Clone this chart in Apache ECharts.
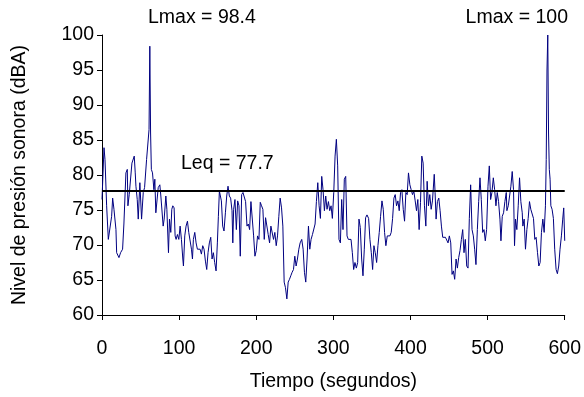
<!DOCTYPE html>
<html>
<head>
<meta charset="utf-8">
<script src="https://cdn.jsdelivr.net/npm/echarts@6/dist/echarts.min.js"></script>
<style>
html,body{margin:0;padding:0;background:#fff;}
#c{width:584px;height:397px;}
</style>
</head>
<body>
<div id="c"></div>
<script>
const times = [
0,2.6,3.9,6,8.2,10.3,12.5,13.8,15.5,17.2,18.1,19,22,24.1,26.7,28.4,31,32.8,33.6,35.3,37.1,38.8,41.8,43.1,44,45.7,47,49.1,51.3,53.5,55.2,57.8,61,62,63,64,65.5,67.3,68.5,69.8,72.9,75,76.3,79.3,80.6,82.8,
84.1,86.2,87.5,89.2,90.5,91.8,93.5,94.8,96.1,97.8,99.6,101.3,103,104.8,105.6,107.3,109,110.8,112.5,114.2,116,117.3,118.5,120.3,122,123.7,125.4,127.2,128.9,130.6,132.3,134.1,135.8,137.5,139.2,141,142.7,144.4,146.1,147.9,149.6,150.9,152.2,153.5,154.8,156.5,158.2,160,161.7,163.4,165.1,166.8,168.6,169.6,
170.7,172.4,174.2,175.9,177.6,179.3,181.1,182.8,184.5,186.2,188,189.7,191.4,193.1,194.8,196.6,198.3,200,201.7,203.5,205.2,206.9,208.6,210.4,212.1,213.8,215.5,217.3,219,220.7,222.4,224.1,225.9,227.6,229.3,231,232.8,234.5,236.2,237.9,239.7,241.4,243.1,244.8,246.5,248.3,250,251.7,253.4,255.2,256.9,
259,260.8,262.5,264.2,265.9,267.7,269.4,271.1,272.9,274.6,276.3,278,279.8,281.5,283.2,284.9,286.6,288.4,290.1,291.8,293.6,295.3,297,298.7,300.5,302.2,303.9,305.6,307.3,309.1,310.8,312.5,314.2,316,317.7,319.4,321.1,322.9,324.6,326.3,328,329.8,331.5,333.2,334.9,336.7,338.4,340.1,341.8,343.6,
345.7,347.4,349.2,350.9,352.6,354.3,356.1,357.8,359.5,361.2,363,364.7,366.4,368.1,369.9,371.6,373.3,375,376.8,378.5,380.2,381.9,383.7,385.4,387.1,388.8,390.6,392.3,394,395.7,397.4,399.2,400.9,402.6,404.3,406.1,407.8,409.5,411.2,413,414.7,416.4,418.1,419.9,421.6,423.3,425,426.8,428.5,
430.8,431.9,433.2,434.9,436.7,438.4,440.1,441.8,443.6,445.3,447,448.7,450.4,452.2,453.9,455.6,457.3,459.1,460.8,462.5,464.2,466,467.7,469.4,471.1,472.9,474.6,476.3,478,479.8,481.5,483.2,484.9,486.7,488.4,490.1,491.8,493.6,495.3,497,498.7,500.5,502.2,503.9,505.6,507.4,509.1,510.8,512.5,514.2,516,
517.3,519,520.7,522.4,524.2,525,526.8,528.5,530.2,531.9,533.6,534.9,536.2,537.9,539.7,541.4,543.1,544.9,545.7,547.4,549.1,550.9,552.6,554.3,556,557.8,559.5,561.2,562.9,564.7,566.4,568.1,569.8,571.6,573.3,575,576,577,578,579,580,581,582,583.6,585.3,587,588.8,590.5,592.2,593.9,595.7,597.4,598.7,600
];
const levels = [
76.5,83.9,82.2,75.6,70.8,70.6,74.1,76.7,75.1,75.3,72.2,68.9,68.2,68.9,69.4,73,80.3,80.8,75.6,77.2,77,81.7,82.7,80.3,78.4,76.5,73.7,78.9,73.7,77.5,78.2,82.2,86.5,98.4,86,80.8,80.3,77.9,79.4,74.6,78.2,78.6,77,72.7,73.7,77,
75.1,68.9,73.7,71.8,75.1,75.6,75.3,71.3,70.8,71.5,70.8,72.7,70.8,68,67,71.3,72.7,73.4,71.8,72,69.4,68,70.8,71.8,70.3,69.4,69.6,69.4,68.7,69.9,69.4,67.7,66.5,68.9,70.3,71.1,68,68.9,67.5,66.3,70.3,74.1,77.7,77,76.3,72.7,72,74.6,77,78.4,77,76.7,74.9,70.3,
75.1,76.5,72.2,76.3,75.6,68.4,77.2,77.5,77.7,76.2,72.7,73,72.2,76.2,76.3,71.3,68.4,69.2,71.3,70.8,76.1,75.6,75.1,70.8,73.9,73.7,71.5,70.3,72.7,72.5,70.8,71.8,69.9,71.3,74.1,76.7,75.3,72.7,64.7,63.9,62.3,64.7,65.1,65.6,66.1,66.5,68.4,67,68,69.4,70.3,
70.8,69.4,66.1,64.7,68,72.7,69.4,70.8,71.5,71.3,73,76.2,78.9,75.6,73.8,79.8,77.9,74.9,77,75.1,76.2,74.9,75.6,73.8,77.5,82.7,85.1,81.3,70.8,70.3,76.5,72.2,79.4,79.8,71.3,70.8,70.6,70.8,68.9,66.5,67.5,66.7,67.5,73.7,72.5,68,65.6,69.4,73.9,74.3,
73.8,70.8,68.9,66.5,69.9,68.9,67.5,69.9,71.8,74.1,76.3,75.1,71.8,69.9,71.3,71.3,71.3,71.8,73.8,76.7,77.2,75.6,76.3,74.9,77.5,77.9,75.1,73.4,77.5,77.2,80.3,78.6,77.9,77.2,77.7,76.3,74.9,76.5,72.2,76.1,82.7,81.7,75.6,72.7,79.1,75.6,77.2,75.1,76.3,
80.1,77.5,73.7,76.2,76.7,74.9,72.7,71.1,71.3,71.1,71.3,70.3,71.3,70.3,65.8,66.3,65.1,68,66.7,68.2,69.2,70.8,72.2,68.9,70.8,67,66.7,73.8,78.6,72.2,71.3,69.4,67.2,72.2,76.2,79.6,76.5,71.8,72.2,70.6,72.2,78.4,81.3,76.5,77.5,79.6,77.9,75.6,77.5,76.2,73.7,
70.6,74.1,74.6,76.2,77.5,74.9,75.6,77,78.4,80.5,77.9,69.9,73.7,72.2,75.6,79.6,76.2,74.6,72.7,73.7,69.4,72.2,73.8,76.2,75.1,75.1,73.8,70.8,71.1,68.9,67,67.5,71.8,73.7,71.8,75.6,82.2,95,100,86,80.8,79.4,75.6,75.1,73.8,69.4,66.5,65.9,67,69.4,71.3,73.7,75.3,70.6
];
const leq = 77.7;
const lmax1 = 98.4;
const lmax2 = 100;
const xName = 'Tiempo (segundos)';
const yName = 'Nivel de presión sonora (dBA)';

const points = times.map((t, i) => [t, levels[i]]);
const FF = '"Liberation Sans", Arial, sans-serif';
const FS = 19.5;

const chart = echarts.init(document.getElementById('c'), null, {renderer: 'canvas'});
chart.setOption({
  animation: false,
  backgroundColor: '#fff',
  grid: {left: 102, right: 18, top: 35, bottom: 81, containLabel: false},
  xAxis: {
    type: 'value', min: 0, max: 600, interval: 100,
    axisLine: {show: true, lineStyle: {color: '#000', width: 1}},
    axisTick: {show: true, length: 5, lineStyle: {color: '#000'}},
    splitLine: {show: false},
    axisLabel: {fontSize: FS, color: '#000', margin: 24, fontFamily: FF},
    name: xName, nameLocation: 'middle', nameGap: 57,
    nameTextStyle: {fontSize: FS, color: '#000', fontFamily: FF}
  },
  yAxis: {
    type: 'value', min: 60, max: 100, interval: 5,
    axisLine: {show: true, lineStyle: {color: '#000', width: 1}},
    axisTick: {show: true, length: 5, lineStyle: {color: '#000'}},
    splitLine: {show: false},
    axisLabel: {fontSize: FS, color: '#000', margin: 8, fontFamily: FF},
    name: yName, nameLocation: 'middle', nameGap: 72,
    nameTextStyle: {fontSize: FS, color: '#000', fontFamily: FF}
  },
  series: [{
    type: 'line',
    data: points,
    symbol: 'none',
    lineStyle: {color: '#000080', width: 1},
    markLine: {
      silent: true,
      symbol: ['none', 'none'],
      label: {show: false},
      lineStyle: {color: '#000', width: 2, type: 'solid'},
      data: [{yAxis: leq}]
    }
  }],
  graphic: [
    {type: 'text', x: 148, y: 18, style: {text: 'Lmax = ' + lmax1, fontSize: FS, fontFamily: FF, fill: '#000', align: 'left', verticalAlign: 'middle'}},
    {type: 'text', x: 568, y: 18, style: {text: 'Lmax = ' + lmax2, fontSize: FS, fontFamily: FF, fill: '#000', align: 'right', verticalAlign: 'middle'}},
    {type: 'text', x: 181, y: 164, style: {text: 'Leq = ' + leq, fontSize: FS, fontFamily: FF, fill: '#000', align: 'left', verticalAlign: 'middle'}}
  ]
});
</script>
</body>
</html>
